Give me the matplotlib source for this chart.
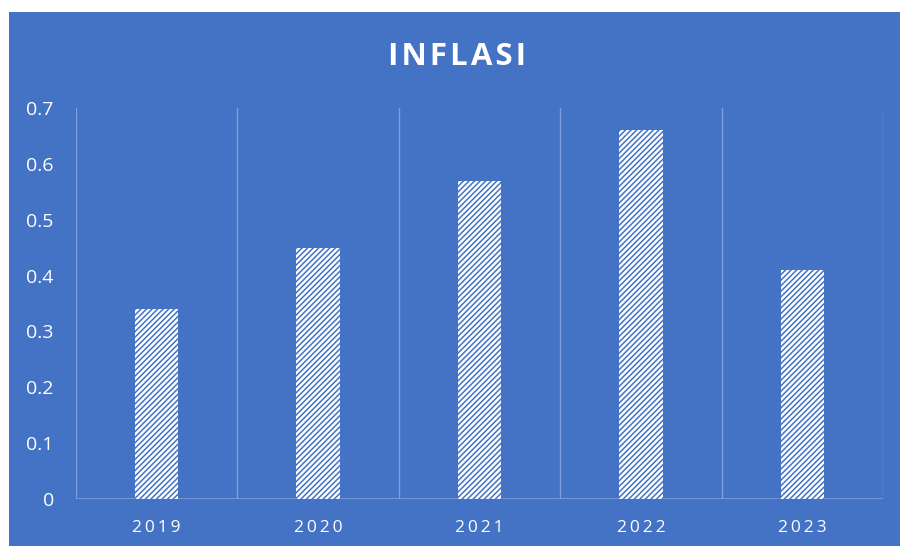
import matplotlib.pyplot as plt
from matplotlib.patches import Rectangle

# data
years = ['2019', '2020', '2021', '2022', '2023']
inflasi = [0.34, 0.45, 0.57, 0.66, 0.41]
yticks = [0, 0.1, 0.2, 0.3, 0.4, 0.5, 0.6, 0.7]

bg = '#4472C4'
grid = '#7E9FD8'
plt.rcParams['font.family'] = ['Open Sans', 'DejaVu Sans']
plt.rcParams['hatch.linewidth'] = 1.1

fig = plt.figure(figsize=(9, 5.46), dpi=100, facecolor='white')
# blue chart area with white margin on left/top
fig.patches.append(Rectangle((9 / 900, 0), 1 - 9 / 900, 1 - 12 / 546,
                             transform=fig.transFigure, facecolor=bg,
                             edgecolor='none', zorder=-5))

ax = fig.add_axes([76 / 900, 47 / 546, 807 / 900, 391 / 546])
ax.set_facecolor('none')
ax.set_zorder(2)

x = list(range(len(years)))
ax.bar(x, inflasi, width=0.27, color='white', edgecolor=bg, linewidth=0,
       hatch='//////', zorder=2)

ax.set_xlim(-0.5, len(years) - 0.5)
ax.set_ylim(0, 0.7)

# vertical separators between categories, baseline at 0
for b in [i - 0.5 for i in range(len(years) + 1)]:
    ax.axvline(b, color=grid, linewidth=1, zorder=1)
ax.axhline(0, color=grid, linewidth=1.2, zorder=1)

for s in ax.spines.values():
    s.set_visible(False)

ax.set_yticks(yticks)
ax.set_yticklabels([('%g' % v) for v in yticks])
ax.set_xticks(x)
ax.set_xticklabels(['\u2009'.join(y) for y in years])
ax.tick_params(axis='y', length=0, pad=16, labelsize=14, labelcolor='white')
ax.tick_params(axis='x', length=0, pad=15, labelsize=12.5, labelcolor='white')

fig.text(0.508, 0.895, '\u200aI\u200aN\u200aF\u200aL\u200aA\u200aS\u200aI\u200a',
         ha='center', va='center', color='white', fontsize=22.5, fontweight='bold')

plt.savefig('out.png', dpi=100, facecolor=fig.get_facecolor())
